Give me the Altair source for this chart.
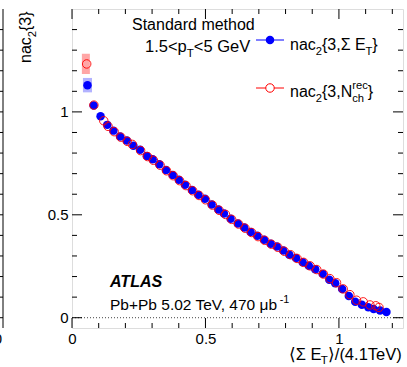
import altair as alt
import pandas as pd

# ---------------- data ----------------
blue_x = [0.058, 0.081, 0.107, 0.132, 0.155, 0.180, 0.205, 0.230, 0.255, 0.280, 0.302, 0.327,
          0.352, 0.377, 0.400, 0.423, 0.449, 0.473, 0.498, 0.523, 0.548, 0.569, 0.594, 0.621,
          0.645, 0.669, 0.694, 0.719, 0.744, 0.767, 0.791, 0.814, 0.839, 0.864, 0.887, 0.911,
          0.939, 0.964, 0.986, 1.012, 1.037, 1.061, 1.086, 1.110, 1.130, 1.154, 1.178]
blue_y = [1.130, 1.031, 0.979, 0.937, 0.909, 0.880, 0.861, 0.835, 0.816, 0.786, 0.770, 0.746,
          0.718, 0.694, 0.670, 0.646, 0.621, 0.597, 0.578, 0.550, 0.526, 0.506, 0.481, 0.458,
          0.438, 0.417, 0.398, 0.379, 0.359, 0.346, 0.326, 0.306, 0.290, 0.269, 0.253, 0.236,
          0.213, 0.184, 0.168, 0.139, 0.105, 0.077, 0.063, 0.051, 0.042, 0.035, 0.028]
red_x = [0.055, 0.082, 0.119, 0.135, 0.158, 0.183, 0.207, 0.226, 0.257, 0.283, 0.305, 0.330,
         0.354, 0.379, 0.403, 0.427, 0.452, 0.476, 0.500, 0.526, 0.551, 0.575, 0.598, 0.624,
         0.648, 0.673, 0.697, 0.722, 0.747, 0.771, 0.795, 0.819, 0.843, 0.868, 0.892, 0.917,
         0.942, 0.966, 0.991, 1.016, 1.041, 1.066, 1.091, 1.116, 1.138, 1.150]
red_y = [1.233, 1.033, 0.957, 0.930, 0.904, 0.877, 0.857, 0.842, 0.812, 0.783, 0.765, 0.741,
         0.714, 0.690, 0.666, 0.642, 0.617, 0.594, 0.573, 0.547, 0.522, 0.502, 0.478, 0.455,
         0.435, 0.414, 0.394, 0.376, 0.357, 0.342, 0.323, 0.306, 0.288, 0.269, 0.252, 0.234,
         0.212, 0.190, 0.170, 0.140, 0.112, 0.085, 0.077, 0.062, 0.058, 0.050]

# systematic boxes (visible for first points)
sys_blue_x = [0.041]
sys_blue_x2 = [0.075]
sys_blue_y = [1.095]
sys_blue_y2 = [1.165]
sys_red_x = [0.037]
sys_red_x2 = [0.067]
sys_red_y = [1.184]
sys_red_y2 = [1.282]

x_major = [0, 0.5, 1]
x_minor = [0.1, 0.2, 0.3, 0.4, 0.6, 0.7, 0.8, 0.9, 1.1, 1.2]
y_major = [0, 0.5, 1]
y_minor = [0.1, 0.2, 0.3, 0.4, 0.6, 0.7, 0.8, 0.9, 1.1, 1.2, 1.3, 1.4]

X_DOMAIN = [0, 1.24]
Y_DOMAIN = [-0.05, 1.5]
W, H = 331, 319
FONT = "Liberation Sans"

xs = alt.Scale(domain=X_DOMAIN, nice=False, zero=False)
ys = alt.Scale(domain=Y_DOMAIN, nice=False, zero=False)

blue_df = pd.DataFrame({"x": blue_x, "y": blue_y})
red_df = pd.DataFrame({"x": red_x, "y": red_y})

# ---------------- text helpers ----------------
AW = {' ': 278, '{': 334, '}': 334, ',': 278, '.': 278, '<': 584, '>': 584, '+': 584,
      '-': 333, '/': 278, '(': 333, ')': 333, 'a': 556, 'b': 556, 'c': 500, 'd': 556,
      'e': 556, 'h': 556, 'm': 833, 'n': 556, 'o': 556, 'p': 556, 'r': 333, 's': 500,
      't': 278, 'A': 667, 'E': 667, 'G': 778, 'N': 722, 'P': 667, 'S': 667, 'T': 611,
      'V': 667, 'L': 556, 'Σ': 600, 'μ': 520, '⟨': 390, '⟩': 390}


def tw(s, size):
    return sum(AW.get(c, 556) for c in s) * size / 1000.0


ONE = alt.Data(values=[{"a": 1}])


def piece(text, x, y, size, angle=None, **kw):
    args = dict(text=text, font=FONT, fontSize=size, align="left",
                baseline="alphabetic", color="black", **kw)
    if angle is not None:
        args["angle"] = angle
    return alt.Chart(ONE).mark_text(**args).encode(x=alt.value(x), y=alt.value(y))


def rich(x0, y0, size, segs, rotated=False, sub_shift=0.3):
    layers = []
    adv = 0.0
    for seg in segs:
        kind = seg[0]
        if kind == "n":
            t = seg[1]
            pos = [(t, 0.0, size)]
            w = tw(t, size)
        elif kind == "sub":
            t = seg[1]
            s = size * 0.7
            pos = [(t, size * sub_shift, s)]
            w = tw(t, s)
        elif kind == "sup":
            t = seg[1]
            s = size * 0.7
            pos = [(t, -size * 0.42, s)]
            w = tw(t, s)
        else:  # subsup
            s = size * 0.7
            pos = [(seg[1], size * sub_shift, s), (seg[2], -size * 0.5, s)]
            w = max(tw(seg[1], s), tw(seg[2], s))
        for t, dy, s in pos:
            if rotated:
                layers.append(piece(t, x0 + dy, y0 - adv, s, angle=270))
            else:
                layers.append(piece(t, x0 + adv, y0 + dy, s))
        adv += w
    return layers, adv


OX, OY = 72, 9  # page offset of plot origin


def tick_rules(vals, orient, length):
    df = pd.DataFrame({"v": vals})
    base = alt.Chart(df).mark_rule(color="black", strokeWidth=1)
    if orient == "left":
        return base.encode(y=alt.Y("v:Q", scale=ys), x=alt.value(0), x2=alt.value(length))
    if orient == "right":
        return base.encode(y=alt.Y("v:Q", scale=ys), x=alt.value(W), x2=alt.value(W - length))
    if orient == "bottom":
        return base.encode(x=alt.X("v:Q", scale=xs), y=alt.value(H), y2=alt.value(H - length))
    return base.encode(x=alt.X("v:Q", scale=xs), y=alt.value(0), y2=alt.value(length))


axis_common = dict(ticks=False, domain=False, grid=False, labelFont=FONT, labelFontSize=15,
                   labelColor="black", title=None, labelOverlap=False, format="~g",
                   tickSize=0)
base_points = alt.Chart(blue_df).mark_circle(size=72, color="#0000ff", opacity=1).encode(
    x=alt.X("x:Q", scale=xs, axis=alt.Axis(values=x_major, labelPadding=3, labelFlush=False,
                                           **axis_common)),
    y=alt.Y("y:Q", scale=ys, axis=alt.Axis(values=y_major, labelPadding=4, **axis_common)),
)

red_points = alt.Chart(red_df).mark_point(shape="circle", filled=False, size=72,
                                          color="#ff0000", strokeWidth=1, opacity=0.9).encode(
    x=alt.X("x:Q", scale=xs), y=alt.Y("y:Q", scale=ys))

sys_b = alt.Chart(pd.DataFrame({"x": sys_blue_x, "x2": sys_blue_x2, "y": sys_blue_y,
                                "y2": sys_blue_y2})).mark_rect(color="#0000ff", opacity=0.3).encode(
    x=alt.X("x:Q", scale=xs), x2="x2:Q", y=alt.Y("y:Q", scale=ys), y2="y2:Q")
sys_r = alt.Chart(pd.DataFrame({"x": sys_red_x, "x2": sys_red_x2, "y": sys_red_y,
                                "y2": sys_red_y2})).mark_rect(color="#ff0000", opacity=0.35).encode(
    x=alt.X("x:Q", scale=xs), x2="x2:Q", y=alt.Y("y:Q", scale=ys), y2="y2:Q")

zero_line = alt.Chart(pd.DataFrame({"v": [0]})).mark_rule(
    color="#444444", strokeWidth=1, strokeDash=[1, 2]).encode(
    y=alt.Y("v:Q", scale=ys), x=alt.value(0), x2=alt.value(W))

ticks = [
    tick_rules(y_major, "left", 10), tick_rules(y_minor, "left", 5),
    tick_rules(y_major, "right", 10), tick_rules(y_minor, "right", 5),
    tick_rules(x_major, "bottom", 10), tick_rules(x_minor, "bottom", 5),
    tick_rules(x_major, "top", 10), tick_rules(x_minor, "top", 5),
]

# neighbouring panel edge (left)
left_edge = alt.Chart(ONE).mark_rule(color="black", strokeWidth=1).encode(
    x=alt.value(3 - OX), y=alt.value(0), y2=alt.value(H))
left_ticks = [
    alt.Chart(pd.DataFrame({"v": y_major})).mark_rule(color="black").encode(
        y=alt.Y("v:Q", scale=ys), x=alt.value(3 - OX), x2=alt.value(3 - OX - 10)),
    alt.Chart(pd.DataFrame({"v": y_minor})).mark_rule(color="black").encode(
        y=alt.Y("v:Q", scale=ys), x=alt.value(3 - OX), x2=alt.value(3 - OX - 5)),
]

# legend
leg = [
    alt.Chart(ONE).mark_rule(color="#0000ff", strokeWidth=1).encode(
        x=alt.value(256 - OX), x2=alt.value(284 - OX), y=alt.value(40 - OY)),
    alt.Chart(ONE).mark_circle(size=72, color="#0000ff", opacity=1).encode(
        x=alt.value(270 - OX), y=alt.value(40 - OY)),
    alt.Chart(ONE).mark_rule(color="#ff0000", strokeWidth=1).encode(
        x=alt.value(256 - OX), x2=alt.value(284 - OX), y=alt.value(88 - OY)),
    alt.Chart(ONE).mark_point(shape="circle", filled=True, fill="white", stroke="#ff0000",
                              strokeWidth=1, size=72, opacity=1).encode(
        x=alt.value(270 - OX), y=alt.value(88 - OY)),
]

texts = []
texts.append(piece("Standard method", 132 - OX, 30 - OY, 16))
l, _ = rich(145 - OX, 52 - OY, 16.5, [("n", "1.5<p"), ("sub", "T"), ("n", "<5 GeV")])
texts += l
l, _ = rich(290 - OX, 50 - OY, 16, [("n", "nac"), ("sub", "2"), ("n", "{3,Σ E"),
                                      ("sub", "T"), ("n", "}")])
texts += l
l, _ = rich(290 - OX, 97 - OY, 16, [("n", "nac"), ("sub", "2"), ("n", "{3,N"),
                                      ("subsup", "ch", "rec"), ("n", "}")])
texts += l
texts.append(alt.Chart(ONE).mark_text(text="ATLAS", font=FONT, fontSize=16, fontWeight="bold",
                                      fontStyle="italic", align="left", baseline="alphabetic",
                                      color="black").encode(x=alt.value(110 - OX), y=alt.value(287 - OY)))
l, _ = rich(110 - OX, 310 - OY, 15.5, [("n", "Pb+Pb 5.02 TeV, 470 μb"), ("sup", "-1")])
texts += l

# x title (right aligned at frame edge)
xsegs = [("n", "⟨Σ E"), ("sub", "T"), ("n", "⟩/(4.1TeV)")]
_, xw = rich(0, 0, 16.5, xsegs)
l, _ = rich(403 - xw - OX, 360 - OY, 16.5, xsegs, sub_shift=0.22)
texts += l

# y title (rotated)
l, _ = rich(31 - OX, 63 - OY, 16, [("n", "nac"), ("sub", "2"), ("n", "{3}")], rotated=True)
texts += l

# partial tick label of the neighbouring panel (cut at the edge, as in the source figure)
texts.append(alt.Chart(ONE).mark_text(text="0", font=FONT, fontSize=15, align="center",
                                      baseline="top", color="black").encode(
    x=alt.value(-2 - OX), y=alt.value(332 - OY)))

chart = alt.layer(
    sys_r, sys_b, zero_line, *ticks, left_edge, *left_ticks,
    base_points, red_points, *leg, *texts
).properties(
    width=W, height=H,
    padding={"left": OX, "top": OY, "right": 407 - OX - W, "bottom": 367 - OY - H},
    autosize=alt.AutoSizeParams(type="none"),
).configure_view(stroke="black", strokeWidth=1).configure(background="white")

chart.save("out.html", embed_options={"renderer": "svg", "actions": False})
